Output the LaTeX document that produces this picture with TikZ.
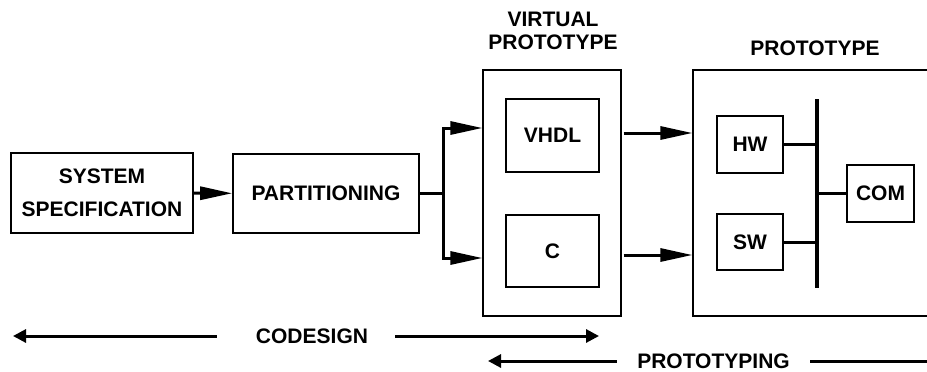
\documentclass[tikz,border=0pt]{standalone}
\usepackage{fontspec}
\setmainfont{Liberation Sans}
\usetikzlibrary{arrows.meta, positioning, calc}
\newcommand{\labelfont}{\fontsize{10.5}{11.5}\selectfont\bfseries}
\tikzset{
  block/.style={rectangle, draw=black, line width=0.8pt, align=center, font=\labelfont},
  subblock/.style={rectangle, draw=black, line width=1.2pt, align=center, font=\labelfont},
  frame/.style={rectangle, draw=black, line width=0.6pt},
  title/.style={inner sep=0pt, align=center, font=\labelfont},
  arrow/.style={line width=1.5pt, -{Triangle[length=16pt, width=6.5pt]}},
  spanarrow/.style={line width=1.5pt, -{Triangle[length=6.5pt, width=6.5pt]}},
  link/.style={line width=1.5pt},
  bus/.style={line width=1.8pt}
}

\begin{document}
\begin{tikzpicture}[x=0.5pt, y=-0.5pt]
\useasboundingbox (0,0) rectangle (927,371);
\clip (0,0) rectangle (927,371);

% design flow
\node[block, minimum width=91pt, minimum height=40pt] (spec) at (102,193) {SYSTEM\\[5pt]SPECIFICATION};
\node[block, minimum width=93pt, minimum height=39.5pt] (part) at (326,193.5) {PARTITIONING};
\draw[arrow] (spec) -- (part);

% virtual prototype
\node[frame, minimum width=69pt, minimum height=123pt] (vp) at (552,193) {};
\node[title] (vptitle) at (553,31) {VIRTUAL\\PROTOTYPE};
\node[subblock, minimum width=46.5pt, minimum height=36.5pt] (vhdl) at (552.5,135.5) {VHDL};
\node[subblock, minimum width=46.5pt, minimum height=36pt] (c) at (552.5,251) {C};

\coordinate (fork) at (443,193.5);
\coordinate (forkTop) at (443,128);
\coordinate (forkBot) at (443,258);
\draw[link] (part.east) -- (fork);
\draw[arrow] (fork) |- (vp.west |- forkTop);
\draw[arrow] (fork) |- (vp.west |- forkBot);

% prototype
\node[frame, minimum width=134pt, minimum height=123pt] (proto) at (827,193) {};
\node[title] (ptitle) at (815,48) {PROTOTYPE};
\node[subblock, minimum width=33pt, minimum height=28.5pt] (hw) at (750,144.5) {HW};
\node[subblock, minimum width=33pt, minimum height=28pt] (sw) at (750,242) {SW};
\node[subblock, minimum width=33.5pt, minimum height=28.5pt] (com) at (880.5,193.5) {COM};

\coordinate (busTop) at (817,99);
\coordinate (busBot) at (817,288);
\draw[bus] (busTop) -- (busBot);
\draw[link] (hw.east) -- (hw.east -| busTop);
\draw[link] (sw.east) -- (sw.east -| busTop);
\draw[link] (com.west) -- (com.west -| busTop);

\draw[arrow] ([xshift=1pt]vp.east |- 0,133) -- (proto.west |- 0,133);
\draw[arrow] ([xshift=1pt]vp.east |- 0,255) -- (proto.west |- 0,255);

% phases
\node[title] (codesign) at (312,336) {CODESIGN};
\coordinate (cdLeft) at (13,336);
\coordinate (cdRight) at (599,336);
\draw[spanarrow] ([xshift=-19.5pt]codesign.west) -- (cdLeft);
\draw[spanarrow] ([xshift=13.5pt]codesign.east) -- (cdRight);

\node[title] (prototyping) at (713.5,361) {PROTOTYPING};
\coordinate (ptLeft) at (488,361);
\coordinate (ptRight) at (940,361);
\draw[spanarrow] ([xshift=-10pt]prototyping.west) -- (ptLeft);
\draw[spanarrow] ([xshift=10pt]prototyping.east) -- (ptRight);
\end{tikzpicture}
\end{document}
